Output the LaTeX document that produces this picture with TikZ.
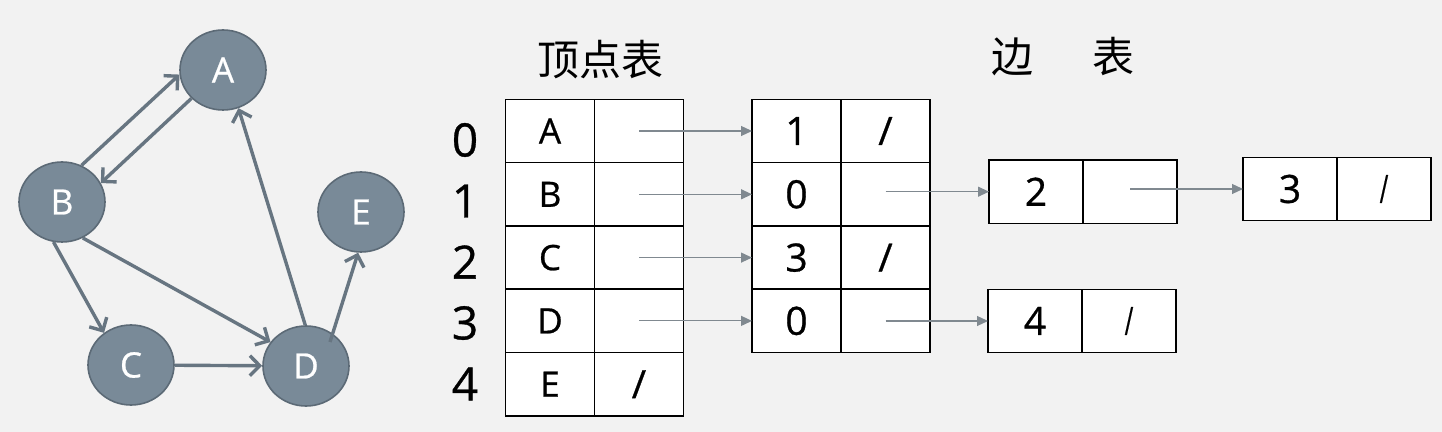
\documentclass[tikz,border=0pt]{standalone}
\usepackage{fontspec}
\setmainfont{Open Sans}[FakeBold = 0.7]
\newfontfamily\cjk{Noto Sans CJK SC}
\usepackage{tikz}
\usetikzlibrary{shapes.geometric}
\usetikzlibrary{positioning}
\usetikzlibrary{calc}
\usetikzlibrary{arrows.meta}
\definecolor{paper}{RGB}{242,242,242}
\definecolor{vertexgrey}{RGB}{121,138,152}
\definecolor{vertexrim}{RGB}{92,106,118}
\definecolor{linkgrey}{RGB}{128,137,144}

\begin{document}
\begin{tikzpicture}[x = 0.5pt,
                    y = -0.5pt,
                    vertex/.style = {ellipse, draw = vertexrim, fill = vertexgrey, line width = 0.8pt,
                                     minimum width = 43pt, minimum height = 40pt, inner sep = 0pt,
                                     text = white, font = \fontsize{17.5}{20}\selectfont},
                    graphlink/.style = {draw = vertexgrey!85!black, line width = 1.7pt,
                                        -{Straight Barb[length = 5pt, width = 10pt]}},
                    cell/.style = {rectangle, draw = black, fill = white, line width = 0.7pt,
                                   minimum width = 44.5pt, minimum height = 31.7pt,
                                   inner sep = 0pt, outer sep = 0pt},
                    widecell/.style = {cell, minimum width = 47pt},
                    letters/.style = {font = \fontsize{17.5}{20}\selectfont},
                    digits/.style = {font = \fontsize{19.5}{22}\selectfont},
                    index/.style = {font = \fontsize{23}{26}\selectfont},
                    heading/.style = {font = \cjk\fontsize{21}{24}\selectfont},
                    link/.style = {draw = linkgrey, line width = 0.6pt,
                                   -{Triangle[length = 5.5pt, width = 5pt]}}]
    % Background:
    \fill [paper] (0,0) rectangle (1442,432);
    \useasboundingbox (0,0) rectangle (1442,432);

    % Draw the directed graph:
    \node [vertex] (A) at (223,70) {A};
    \node [vertex] (B) at (62,202) {B};
    \node [vertex] (C) at (131,365) {C};
    \node [vertex] (D) at (306,366) {D};
    \node [vertex] (E) at (361,212) {E};
    \coordinate (Dtail) at (330,342);

    \draw [graphlink] (B.62) -- (A.186);
    \draw [graphlink] (A.222) -- (B.26);
    \draw [graphlink] (B.258) -- (C.130);
    \draw [graphlink] (B.300) -- (D.146);
    \draw [graphlink] (C) -- (D);
    \draw [graphlink] (D.91) -- (A.292);
    \draw [graphlink] (Dtail) -- (E.266);

    % Draw the headings:
    \node [heading] (VertexTitle) at (600,60) {顶点表};
    \node [heading] (EdgeTitle) at (1063,57) {边\hspace{1.4em}表};

    % Draw the vertex table:
    \foreach \i/\lbl in {0/A, 1/B, 2/C, 3/D, 4/E} {
        \node [cell, letters] (key\i) at (550,{131+63.3*\i}) {\lbl};
        \node [cell, right = 0pt of key\i] (ptr\i) {};
        \node [index] (idx\i) at (465,{140+61*\i}) {\i};
    }
    \node [digits] (nil4) at (ptr4) {/};

    % Draw the first edge nodes:
    \foreach \i/\val in {0/1, 1/0, 2/3, 3/0} {
        \node [cell, digits] (adj\i) at (796.5,{131+63.3*\i}) {\val};
        \node [cell, right = 0pt of adj\i] (nxt\i) {};
        \draw [link] (ptr\i.center) -- (adj\i.west);
    }
    \node [digits] (nil0) at (nxt0) {/};
    \node [digits] (nil2) at (nxt2) {/};

    % Draw the following edge nodes:
    \node [widecell, digits] (twoKey) at (1036,191.7) {2};
    \node [widecell, right = 0pt of twoKey] (twoPtr) {};
    \node [widecell, digits] (threeKey) at (1290,189) {3};
    \node [widecell, digits, right = 0pt of threeKey] (threePtr) {\scalebox{0.6}[1]{/}};
    \node [widecell, digits] (fourKey) at (1035,321) {4};
    \node [widecell, digits, right = 0pt of fourKey] (fourPtr) {\scalebox{0.6}[1]{/}};

    \draw [link] (nxt1.center |- twoKey) -- (twoKey.west);
    \draw [link] (twoPtr.center |- threeKey) -- (threeKey.west);
    \draw [link] (nxt3.center |- fourKey) -- (fourKey.west);
\end{tikzpicture}
\end{document}
